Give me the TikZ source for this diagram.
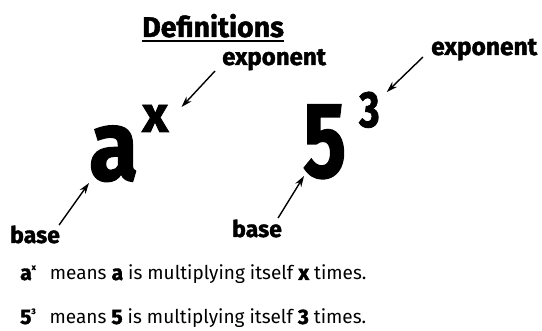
\documentclass[tikz,border=0pt]{standalone}
\usepackage{graphicx}
\usepackage{fontspec}
\setmainfont{Fira Sans}[BoldFeatures={FakeBold=1.6}]
\usetikzlibrary{arrows.meta}
\tikzset{
  lbl/.style={anchor=base west, inner sep=0pt, font=\fontsize{23}{23}\selectfont\bfseries},
  big/.style={anchor=base west, inner sep=0pt},
  body/.style={anchor=base west, inner sep=0pt, font=\fontsize{19}{19}\selectfont},
  arr/.style={line width=1.4pt, -{Stealth[length=11pt,width=7pt]}}
}
\newcommand{\bb}[1]{{\fontsize{21}{21}\selectfont\bfseries #1}}
\newcommand{\sm}[1]{\raisebox{10pt}{\fontsize{8}{8}\selectfont\bfseries #1}}
\begin{document}
\begin{tikzpicture}[x=1pt,y=-1pt]
\useasboundingbox (0,0) rectangle (542,331);
% title
\node[big, font=\fontsize{28.5}{28.5}\selectfont\bfseries] (title) at (142,37) {Definitions};
\draw[line width=1.6pt] (title.base west) ++(0,4) coordinate (ul1) -- (title.base east |- ul1);
% left expression
\node[lbl, font=\fontsize{24}{24}\selectfont\bfseries] (expL) at (222,65) {exponent};
\node[big] (a) at (89,180) {\fontsize{99}{99}\selectfont\bfseries\scalebox{0.9}[1]{a}};
\node[big] (x) at (142,132) {\fontsize{51}{51}\selectfont\bfseries x};
\node[lbl] (baseL) at (10,243) {base};
% right expression
\node[lbl, font=\fontsize{24.5}{24.5}\selectfont\bfseries] (expR) at (431,55) {exponent};
\node[big] (five) at (303,177) {\fontsize{107}{107}\selectfont\bfseries\scalebox{0.75}[1]{5}};
\node[big] (three) at (359,127) {\fontsize{51}{51}\selectfont\bfseries\scalebox{0.77}[1]{3}};
\node[lbl] (baseR) at (232,237) {base};
% arrows
\draw[arr] ([shift={(-7,6)}]expL.base west) -- ([shift={(13,-25)}]x.base east);
\draw[arr] ([shift={(-8,2)}]expR.base west) -- ([shift={(7,-35)}]three.base east);
\draw[arr] ([shift={(-1,-18)}]baseL.base east) -- ([shift={(0,3)}]a.base west);
\draw[arr] ([shift={(-4,-19)}]baseR.base east) -- ([shift={(1,-1)}]five.base west);
% definitions
\node[body] (d1) at (20,280) {\bb{a}\sm{x}\hspace{14pt}means \bb{a} is multiplying itself \bb{x} times.};
\node[body] (d2) at (20,324) {\bb{5}\sm{3}\hspace{14pt}means \bb{5} is multiplying itself \bb{3} times.};
\end{tikzpicture}
\end{document}
